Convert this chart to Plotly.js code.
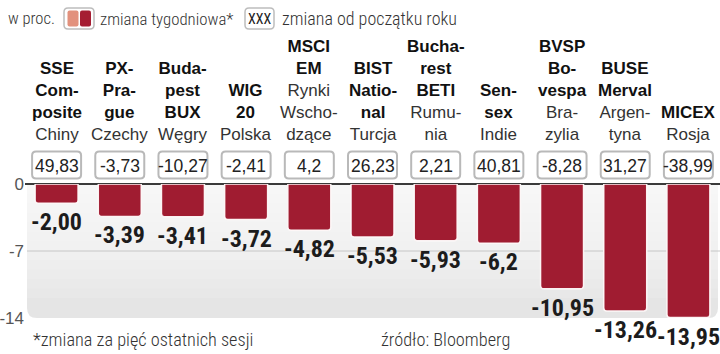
<!DOCTYPE html>
<html>
<head>
<meta charset="utf-8">
<script src="https://cdn.plot.ly/plotly-3.0.1.min.js"></script>
<style>
html,body{margin:0;padding:0;background:#fff;}
#chart{width:720px;height:354px;}
text[style*="Roboto"], tspan[style*="Roboto"]{font-stretch:condensed;}
</style>
</head>
<body>
<div id="chart"></div>
<script>
// ---- data ----
const nameLines = [["SSE","Com-","posite"],["PX-","Pra-","gue"],["Buda-","pest","BUX"],["WIG","20"],["MSCI","EM"],["BIST","Natio-","nal"],["Bucha-","rest","BETI"],["Sen-","sex"],["BVSP","Bo-","vespa"],["BUSE","Merval"],["MICEX"]];
const countryLines = [["Chiny"],["Czechy"],["Węgry"],["Polska"],["Rynki","Wscho-","dzące"],["Turcja"],["Rumu-","nia"],["Indie"],["Bra-","zylia"],["Argen-","tyna"],["Rosja"]];
const weekly = [-2.00,-3.39,-3.41,-3.72,-4.82,-5.53,-5.93,-6.2,-10.95,-13.26,-13.95];
const weeklyLabels = ["-2,00","-3,39","-3,41","-3,72","-4,82","-5,53","-5,93","-6,2","-10,95","-13,26","-13,95"];
const ytdLabels = ["49,83","-3,73","-10,27","-2,41","4,2","26,23","2,21","40,81","-8,28","31,27","-38,99"];
const yTicks = [0,-7,-14];
const yTickLabels = ["0","-7","-14"];

// ---- layout helpers ----
const W = 720, H = 354, ML = 25, MR = 0, MT = 184, MB = 36;
const PW = W - ML - MR, PH = H - MT - MB;
const px2x = p => (p - ML) / PW;          // pixel -> paper x
const py2y = p => (H - MB - p) / PH;      // pixel -> paper y
const idx = weekly.map((_, i) => i);
const COND = "Roboto";                     // rendered condensed via CSS font-stretch
const SANS = "Liberation Sans, Arial, sans-serif";

function rr(x0, y0, x1, y1, rx, ry) { // rounded rect path (x0<x1, y0<y1)
  return `M${x0+rx},${y0} L${x1-rx},${y0} Q${x1},${y0} ${x1},${y0+ry} L${x1},${y1-ry} Q${x1},${y1} ${x1-rx},${y1} L${x0+rx},${y1} Q${x0},${y1} ${x0},${y1-ry} L${x0},${y0+ry} Q${x0},${y0} ${x0+rx},${y0} Z`;
}

const shapes = [];
const annotations = [];

// gray background panel (rounded bottom corners) with vertical gradient
{
  const x0 = px2x(27), x1 = px2x(718), yTop = 0, yBot = -14;
  const rx = 10 / PW, ry = 10 * 14 / PH;
  shapes.push({type:'path', xref:'paper', yref:'y', layer:'below', line:{width:0}, fillcolor:'#e5e5e5',
    path:`M${x0},${yTop} L${x1},${yTop} L${x1},${yBot+ry} Q${x1},${yBot} ${x1-rx},${yBot} L${x0+rx},${yBot} Q${x0},${yBot} ${x0},${yBot+ry} Z`});
  const N = 12;
  for (let k = 1; k <= N; k++) {
    shapes.push({type:'rect', xref:'paper', yref:'y', layer:'below', line:{width:0}, fillcolor:'rgba(255,255,255,0.12)',
      x0:x0, x1:x1, y0:0, y1:-14 * k / N * 0.85});
  }
  shapes.push({type:'line', xref:'paper', yref:'y', layer:'below', x0:px2x(27), x1:1, y0:yTicks[1], y1:yTicks[1], line:{color:'#c6c6c6', width:1}});
}

// YTD boxes + header labels + weekly labels
const bw = 24.5 / (PW / 11);
idx.forEach(i => {
  shapes.push({type:'path', xref:'x', yref:'paper', layer:'above', fillcolor:'#ffffff', line:{color:'#b9b9b9', width:2},
    path: rr(i - bw, py2y(178.5), i + bw, py2y(151.5), 4 / (PW / 11), 4 / PH)});
  annotations.push({x:i, xref:'x', y:py2y(166), yref:'paper', yanchor:'middle', xanchor:'center', showarrow:false,
    text: ytdLabels[i], font:{family:SANS, size:17.5, color:'#222'}});
  const txt = nameLines[i].map(s => '<b>' + s + '</b>').concat(countryLines[i].map(s => '<span style="color:#333">' + s + '</span>')).join('<br>');
  annotations.push({x:i, xref:'x', y:py2y(146), yref:'paper', yanchor:'bottom', xanchor:'center', showarrow:false,
    text: txt, font:{family:SANS, size:17, color:'#111'}});
  annotations.push({x:i, xref:'x', y:weekly[i], yref:'y', yanchor:'top', xanchor:'center', showarrow:false, yshift:-3,
    text:'<b>' + weeklyLabels[i] + '</b>', font:{family:COND, size:24, color:'#1c1c1c'}});
});

// top legend
annotations.push({x:px2x(6), xref:'paper', y:py2y(19), yref:'paper', xanchor:'left', yanchor:'middle', showarrow:false,
  text:'w proc.', font:{family:COND, size:16.5, color:'#333', weight:300}});
shapes.push({type:'path', xref:'paper', yref:'paper', fillcolor:'#ffffff', line:{color:'#bdbdbd', width:1.5},
  path: rr(px2x(64), py2y(29), px2x(94), py2y(8), 4/PW, 4/PH)});
shapes.push({type:'path', xref:'paper', yref:'paper', fillcolor:'#e2917d', line:{width:0},
  path: rr(px2x(67.5), py2y(26.5), px2x(78.5), py2y(10.5), 2/PW, 2/PH)});
shapes.push({type:'path', xref:'paper', yref:'paper', fillcolor:'#a51d33', line:{width:0},
  path: rr(px2x(80), py2y(26.5), px2x(91), py2y(10.5), 2/PW, 2/PH)});
annotations.push({x:px2x(98), xref:'paper', y:py2y(19), yref:'paper', xanchor:'left', yanchor:'middle', showarrow:false,
  text:'zmiana tygodniowa*', font:{family:COND, size:16.8, color:'#333', weight:300}});
shapes.push({type:'path', xref:'paper', yref:'paper', fillcolor:'#ffffff', line:{color:'#bdbdbd', width:1.5},
  path: rr(px2x(245), py2y(29), px2x(274), py2y(8), 4/PW, 4/PH)});
annotations.push({x:px2x(259.5), xref:'paper', y:py2y(19), yref:'paper', xanchor:'center', yanchor:'middle', showarrow:false,
  text:'XXX', font:{family:COND, size:14, color:'#222'}});
annotations.push({x:px2x(280), xref:'paper', y:py2y(19), yref:'paper', xanchor:'left', yanchor:'middle', showarrow:false,
  text:'zmiana od początku roku', font:{family:COND, size:18, color:'#333', weight:300}});

// footer
const FOOTF = {family:COND, size:18.3, color:'#333', weight:300};
annotations.push({x:px2x(31), xref:'paper', y:py2y(339), yref:'paper', xanchor:'left', yanchor:'middle', showarrow:false,
  text:'*zmiana za pięć ostatnich sesji', font:FOOTF});
annotations.push({x:px2x(379), xref:'paper', y:py2y(339), yref:'paper', xanchor:'left', yanchor:'middle', showarrow:false,
  text:'źródło: Bloomberg', font:FOOTF});

const trace = {
  type:'bar', x: idx, y: weekly, width: 0.68,
  marker:{color:'#a01c31', cornerradius:3, line:{color:'rgba(255,250,250,0.95)', width:1.5}},
  hoverinfo:'none', cliponaxis:false
};

const layout = {
  width:W, height:H, margin:{l:ML, r:MR, t:MT, b:MB, pad:0},
  paper_bgcolor:'#ffffff', plot_bgcolor:'rgba(0,0,0,0)',
  showlegend:false,
  xaxis:{type:'linear', range:[-0.5, 10.5], showgrid:false, zeroline:false, showticklabels:false, ticks:'', fixedrange:true},
  yaxis:{range:[-14, 0], tickvals:yTicks, ticktext:yTickLabels, showgrid:false, zeroline:true, zerolinecolor:'#3a3a3a', zerolinewidth:1.5,
    ticks:'', tickfont:{family:SANS, size:17, color:'#555'}, fixedrange:true},
  shapes: shapes,
  annotations: annotations
};

Plotly.newPlot('chart', [trace], layout, {staticPlot:true, displayModeBar:false});
</script>
</body>
</html>
